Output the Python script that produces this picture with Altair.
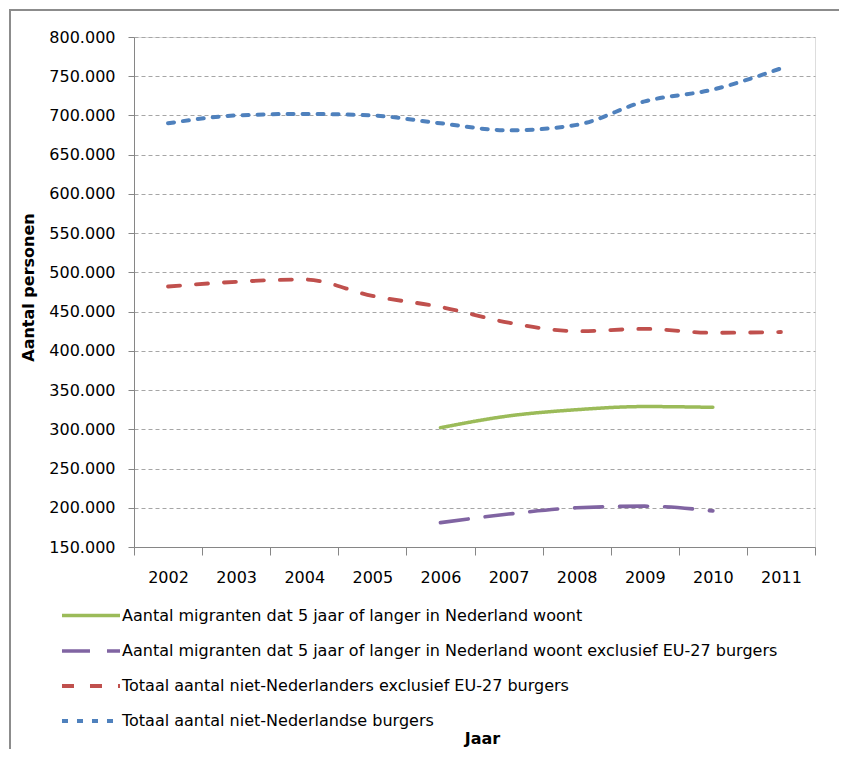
import altair as alt
import pandas as pd

years = ["2002", "2003", "2004", "2005", "2006", "2007", "2008", "2009", "2010", "2011"]

series_names = [
    "Aantal migranten dat 5 jaar of langer in Nederland woont",
    "Aantal migranten dat 5 jaar of langer in Nederland woont exclusief EU-27 burgers",
    "Totaal aantal niet-Nederlanders exclusief EU-27 burgers",
    "Totaal aantal niet-Nederlandse burgers",
]

migranten_5jaar = [None, None, None, None, 302000, 317000, 325000, 329000, 328000, None]
migranten_5jaar_excl = [None, None, None, None, 181000, 192000, 200000, 202000, 196000, None]
totaal_excl_eu = [482000, 488000, 491000, 470000, 456000, 436000, 425000, 428000, 423000, 424000]
totaal_burgers = [690000, 700000, 702000, 700000, 690000, 681000, 688000, 718000, 733000, 760000]

series_values = [migranten_5jaar, migranten_5jaar_excl, totaal_excl_eu, totaal_burgers]
series_colors = ["#9BBB59", "#8064A2", "#C0504D", "#4F81BD"]
series_dashes = [[1, 0], [28, 17], [12, 16], [6, 9]]
series_widths = [3.5, 4, 4, 4.5]

y_ticks = list(range(150000, 800001, 50000))

rows = []
for name, vals in zip(series_names, series_values):
    for yr, v in zip(years, vals):
        if v is not None:
            rows.append({"Jaar": yr, "serie": name, "waarde": v})
df = pd.DataFrame(rows)

font = "DejaVu Sans"


def make_legend():
    return alt.Legend(
        title=None,
        orient="none",
        legendX=-72,
        legendY=567,
        direction="vertical",
        padding=0,
        rowPadding=15,
        symbolType="M-3,0H3",
        symbolSize=374,
        symbolStrokeWidth=4,
        symbolOffset=17,
        labelOffset=19,
        labelFont=font,
        labelFontSize=16,
        labelColor="#000000",
        labelLimit=900,
    )


lines = alt.Chart(df).mark_line(interpolate="monotone", strokeCap="round").encode(
    x=alt.X(
        "Jaar:N",
        sort=years,
        scale=alt.Scale(domain=years, paddingInner=0, paddingOuter=0),
        axis=alt.Axis(
            title="Jaar",
            labelAngle=0,
            tickBand="extent",
            tickSize=8,
            tickColor="#868686",
            domainColor="#868686",
            labelPadding=14,
            labelFont=font,
            labelFontSize=16,
            labelColor="#000000",
            titleFont=font,
            titleFontSize=16,
            titleFontWeight="bold",
            titleColor="#000000",
            titleX=348,
            titleY=191,
            titleBaseline="middle",
            grid=False,
        ),
    ),
    y=alt.Y(
        "waarde:Q",
        scale=alt.Scale(domain=[150000, 800000], nice=False, zero=False),
        axis=alt.Axis(
            title="Aantal personen",
            values=y_ticks,
            labelExpr="replace(format(datum.value, ',d'), ',', '.')",
            tickSize=6,
            tickColor="#868686",
            domainColor="#868686",
            labelPadding=13,
            labelFont=font,
            labelFontSize=16,
            labelColor="#000000",
            titleFont=font,
            titleFontSize=16,
            titleFontWeight="bold",
            titleColor="#000000",
            titleX=-106,
            titleY=250,
            titleAngle=270,
            titleAlign="center",
            titleBaseline="middle",
            grid=True,
            gridColor="#A6A6A6",
            gridDash=[4, 3],
            gridWidth=1,
        ),
    ),
    color=alt.Color(
        "serie:N",
        sort=series_names,
        scale=alt.Scale(domain=series_names, range=series_colors),
        legend=make_legend(),
    ),
    strokeDash=alt.StrokeDash(
        "serie:N",
        sort=series_names,
        scale=alt.Scale(domain=series_names, range=series_dashes),
        legend=make_legend(),
    ),
    strokeWidth=alt.StrokeWidth(
        "serie:N",
        scale=alt.Scale(domain=series_names, range=series_widths),
        legend=None,
    ),
)

frame_df = pd.DataFrame({"k": [0]})
frame_left = alt.Chart(frame_df).mark_rule(color="#8C8C8C", strokeWidth=2).encode(
    x=alt.value(-124), y=alt.value(-27), y2=alt.value(740)
)
frame_top = alt.Chart(frame_df).mark_rule(color="#8C8C8C", strokeWidth=2).encode(
    x=alt.value(-125), x2=alt.value(720), y=alt.value(-27)
)

chart = alt.layer(lines, frame_left, frame_top).properties(
    width=681,
    height=510,
    autosize=alt.AutoSizeParams(type="none"),
    padding={"left": 126, "top": 29, "right": 24, "bottom": 202},
).configure_view(stroke=None).configure(background="#FFFFFF")

chart.save("out.html", embed_options={"renderer": "svg", "actions": False})
